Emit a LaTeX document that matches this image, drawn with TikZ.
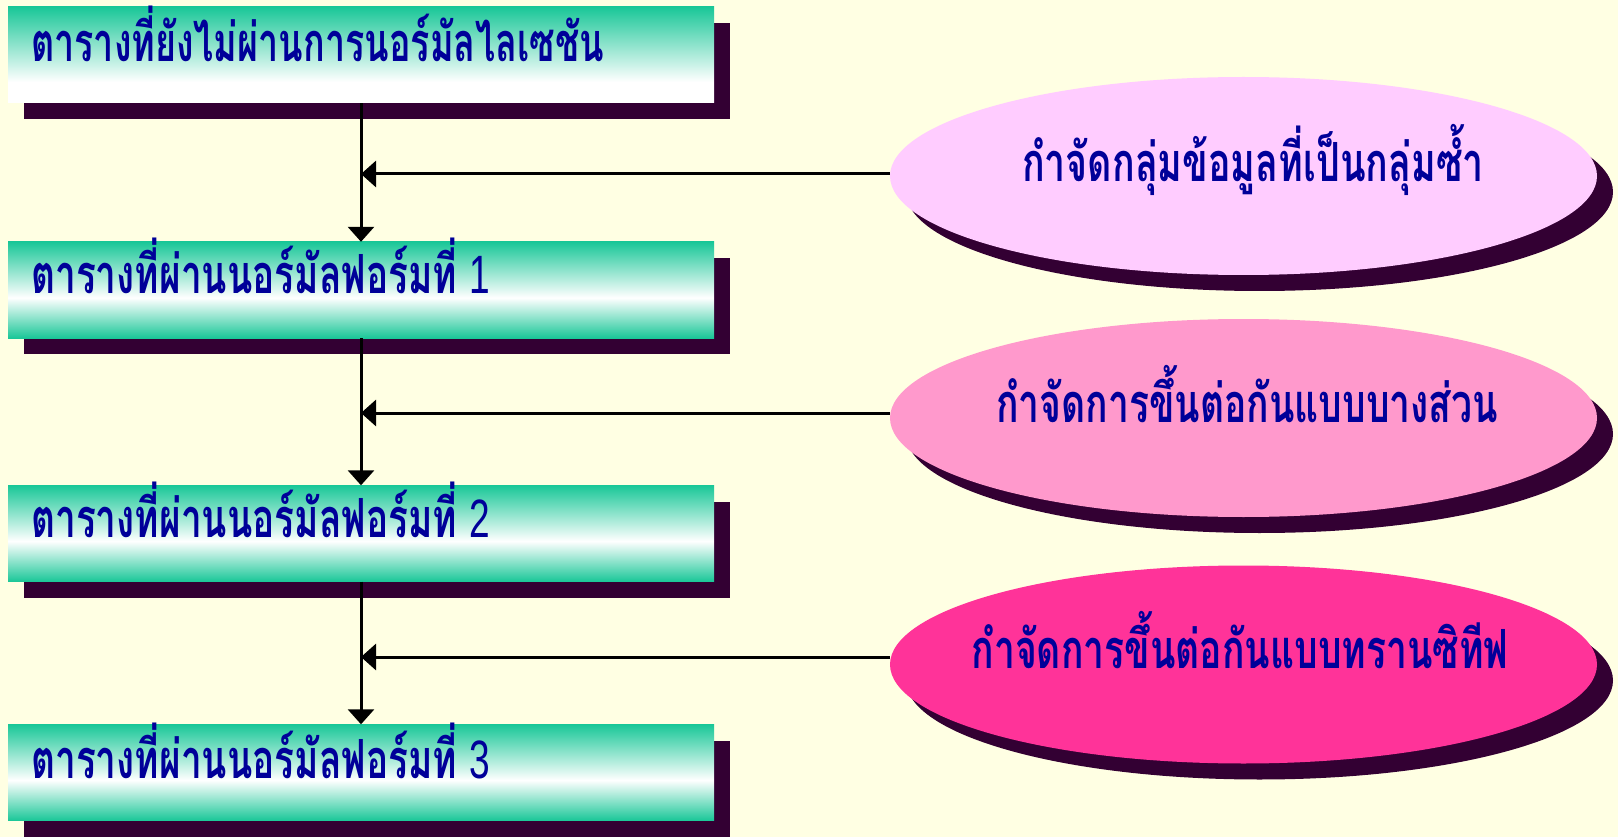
\documentclass[tikz,border=0pt]{standalone}
\usepackage{fontspec}
\setmainfont{Liberation Sans}
\newfontfamily\thai[Script=Thai]{Loma}
\newfontfamily\latinf{Liberation Sans}
\usetikzlibrary{arrows.meta,shapes.geometric,shadows}
\definecolor{bg}{HTML}{FFFFE3}
\definecolor{tealc}{RGB}{26,199,152}
\definecolor{shd}{HTML}{330033}
\definecolor{ink}{HTML}{000099}
\definecolor{pa}{HTML}{FFCCFF}
\definecolor{pb}{HTML}{FF99CC}
\definecolor{pc}{HTML}{FF3399}
\pgfdeclareverticalshading{topfade}{100bp}{color(0bp)=(white); color(36bp)=(white); color(75bp)=(tealc); color(100bp)=(tealc)}
\pgfdeclareverticalshading{midfade}{100bp}{color(0bp)=(tealc); color(25bp)=(tealc); color(46bp)=(white); color(75bp)=(tealc); color(100bp)=(tealc)}
\newcommand{\fitw}[2]{\resizebox{#1}{\height}{#2}}
\begin{document}
\begin{tikzpicture}[x=1pt,y=-1pt,
  boxnode/.style={rectangle, minimum width=706pt, minimum height=96pt, inner sep=0pt,
    general shadow={fill=shd, shadow xshift=16pt, shadow yshift=-16pt}},
  notenode/.style={ellipse, minimum width=707pt, minimum height=198pt, inner sep=0pt,
    general shadow={fill=shd, shadow xshift=16pt, shadow yshift=-16pt}},
  lbl/.style={text=ink, font=\thai\bfseries\fontsize{54}{60}\selectfont, inner sep=0pt},
  arr/.style={line width=3pt, -{Triangle[length=15pt,width=26pt]}}]
\useasboundingbox (0,0) rectangle (1618,837);
\fill[bg] (0,0) rectangle (1618,837);
% boxes
\node[boxnode, shading=topfade] (b1) at (361,55) {};
\node[boxnode, shading=midfade] (b2) at (361,290) {};
\node[boxnode, shading=midfade] (b3) at (361,533.5) {};
\node[boxnode, shading=midfade] (b4) at (361,772.5) {};
% ellipses
\node[notenode, fill=pa] (e1) at (1243.5,176) {};
\node[notenode, fill=pb] (e2) at (1243.5,418) {};
\node[notenode, fill=pc] (e3) at (1243.5,664.5) {};
% box labels
\node[lbl, anchor=base west] (t1) at (31,62) {\fitw{573pt}{ตารางที่ยังไม่ผ่านการนอร์มัลไลเซชัน}};
\node[lbl, anchor=base west] (t2) at (31,294) {\fitw{459pt}{ตารางที่ผ่านนอร์มัลฟอร์มที่ {\latinf\mdseries 1}}};
\node[lbl, anchor=base west] (t3) at (31,537) {\fitw{459pt}{ตารางที่ผ่านนอร์มัลฟอร์มที่ {\latinf\mdseries 2}}};
\node[lbl, anchor=base west] (t4) at (31,778) {\fitw{459pt}{ตารางที่ผ่านนอร์มัลฟอร์มที่ {\latinf\mdseries 3}}};
% ellipse labels
\node[lbl, anchor=base] (u1) at (1253,182) {\fitw{462pt}{กำจัดกลุ่มข้อมูลที่เป็นกลุ่มซ้ำ}};
\node[lbl, anchor=base] (u2) at (1247,422) {\fitw{502pt}{กำจัดการขึ้นต่อกันแบบบางส่วน}};
\node[lbl, anchor=base] (u3) at (1240,668) {\fitw{537pt}{กำจัดการขึ้นต่อกันแบบทรานซิทีฟ}};
% junctions
\coordinate (j1) at (361,174);
\coordinate (j2) at (361,413);
\coordinate (j3) at (361,657);
% connectors
\draw[arr] (b1.south) -- (b2.north);
\draw[arr] (b2.south) -- (b3.north);
\draw[arr] (b3.south) -- (b4.north);
\draw[arr] (e1.west |- j1) -- (j1);
\draw[arr] (e2.west |- j2) -- (j2);
\draw[arr] (e3.west |- j3) -- (j3);
\end{tikzpicture}
\end{document}
